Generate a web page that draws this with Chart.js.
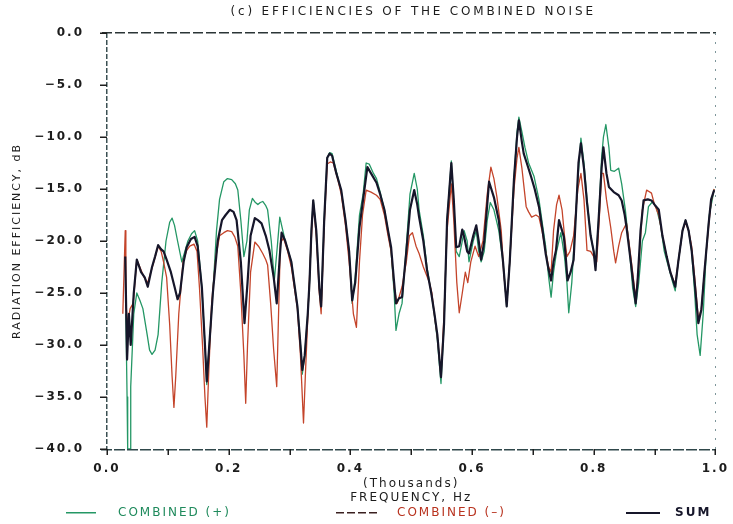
<!DOCTYPE html>
<html>
<head>
<meta charset="utf-8">
<script src="https://cdn.jsdelivr.net/npm/chart.js@4.4.0/dist/chart.umd.min.js"></script>
<style>
  html, body { margin: 0; padding: 0; background: #fff; }
  #wrap { width: 733px; height: 524px; }
</style>
</head>
<body>
<div id="wrap"><canvas id="effChart" width="733" height="524"></canvas></div>
<script>
// frequency in thousands of Hz, efficiency in dB
const combinedPlus = [
  [0.031,-27.0],[0.033,-35.0],[0.034,-40.0],[0.038,-40.0],[0.039,-34.0],[0.044,-27.0],[0.049,-25.0],
  [0.054,-25.7],[0.059,-26.5],[0.066,-29.0],[0.070,-30.5],[0.074,-30.9],[0.079,-30.5],[0.084,-29.0],
  [0.090,-24.0],[0.097,-20.0],[0.103,-18.2],[0.107,-17.8],[0.111,-18.5],[0.116,-20.0],[0.123,-22.0],
  [0.128,-21.0],[0.133,-20.0],[0.139,-19.3],[0.144,-19.0],[0.149,-20.0],[0.156,-24.5],[0.161,-30.0],
  [0.164,-33.8],[0.167,-31.0],[0.174,-25.0],[0.180,-19.0],[0.185,-16.0],[0.192,-14.3],[0.198,-14.0],
  [0.205,-14.1],[0.211,-14.5],[0.215,-15.1],[0.220,-18.0],[0.225,-21.5],[0.230,-20.0],[0.234,-17.0],
  [0.239,-15.9],[0.244,-16.3],[0.248,-16.5],[0.252,-16.3],[0.256,-16.2],[0.261,-16.6],[0.264,-17.0],
  [0.270,-20.0],[0.275,-23.8],[0.280,-20.5],[0.284,-17.7],[0.289,-19.0],[0.293,-20.0],[0.303,-22.0],
  [0.313,-26.3],[0.318,-30.0],[0.321,-32.8],[0.325,-31.0],[0.330,-27.0],[0.333,-23.8],[0.336,-19.0],
  [0.339,-16.1],[0.344,-19.0],[0.349,-24.5],[0.352,-26.5],[0.357,-18.0],[0.362,-12.0],[0.366,-11.5],
  [0.370,-11.6],[0.377,-13.3],[0.385,-15.2],[0.392,-18.0],[0.398,-21.0],[0.403,-26.0],[0.408,-23.5],
  [0.415,-17.5],[0.421,-15.5],[0.426,-12.5],[0.431,-12.6],[0.438,-13.5],[0.443,-14.0],[0.449,-15.3],
  [0.456,-17.0],[0.462,-19.0],[0.467,-21.0],[0.472,-25.0],[0.475,-28.6],[0.480,-27.0],[0.485,-26.0],
  [0.492,-20.5],[0.498,-15.5],[0.505,-13.5],[0.510,-15.0],[0.513,-17.0],[0.520,-19.5],[0.526,-22.5],
  [0.533,-25.0],[0.538,-27.0],[0.543,-29.5],[0.549,-33.7],[0.554,-28.0],[0.559,-18.0],[0.566,-12.3],
  [0.570,-16.5],[0.574,-21.0],[0.579,-21.5],[0.584,-20.0],[0.587,-19.0],[0.592,-20.0],[0.595,-22.0],
  [0.602,-20.0],[0.607,-19.0],[0.611,-21.0],[0.615,-22.0],[0.620,-21.0],[0.625,-18.0],[0.630,-16.3],
  [0.636,-17.0],[0.644,-19.0],[0.651,-22.0],[0.657,-26.3],[0.662,-22.0],[0.669,-14.0],[0.674,-9.5],
  [0.677,-8.1],[0.682,-9.5],[0.687,-11.0],[0.693,-12.5],[0.702,-13.8],[0.710,-16.0],[0.716,-18.5],
  [0.721,-20.5],[0.726,-23.5],[0.730,-25.4],[0.734,-23.0],[0.739,-21.0],[0.746,-19.2],[0.752,-21.5],
  [0.756,-24.0],[0.759,-26.9],[0.764,-24.0],[0.769,-19.0],[0.774,-14.0],[0.779,-10.1],[0.784,-12.5],
  [0.789,-16.0],[0.795,-19.5],[0.800,-21.0],[0.803,-22.5],[0.808,-18.0],[0.813,-12.0],[0.816,-10.0],
  [0.820,-8.8],[0.825,-11.0],[0.828,-13.2],[0.834,-13.3],[0.841,-13.0],[0.846,-14.5],[0.852,-17.0],
  [0.859,-21.0],[0.864,-24.5],[0.869,-26.3],[0.874,-24.0],[0.880,-20.0],[0.885,-19.2],[0.890,-16.7],
  [0.897,-16.2],[0.903,-16.8],[0.910,-18.5],[0.916,-21.0],[0.923,-22.5],[0.930,-24.0],[0.934,-24.8],
  [0.939,-22.0],[0.946,-19.0],[0.951,-18.0],[0.956,-19.0],[0.961,-21.0],[0.966,-25.0],[0.970,-29.0],
  [0.975,-31.0],[0.980,-27.0],[0.985,-21.0],[0.990,-17.5],[0.995,-16.0],[0.998,-15.0]
];

const combinedMinus = [
  [0.026,-27.0],[0.030,-19.0],[0.031,-26.0],[0.034,-28.0],[0.038,-26.5],[0.043,-26.0],[0.049,-21.8],
  [0.054,-22.5],[0.061,-23.5],[0.067,-24.0],[0.072,-23.0],[0.077,-22.0],[0.084,-20.5],[0.089,-21.0],
  [0.093,-22.0],[0.098,-23.5],[0.103,-28.0],[0.107,-33.0],[0.110,-36.0],[0.113,-33.0],[0.118,-27.0],
  [0.125,-22.0],[0.131,-20.9],[0.136,-20.5],[0.143,-20.3],[0.148,-21.0],[0.152,-24.5],[0.157,-30.0],
  [0.161,-35.0],[0.164,-37.9],[0.167,-33.0],[0.172,-26.0],[0.179,-21.5],[0.185,-19.5],[0.192,-19.2],
  [0.198,-19.0],[0.205,-19.1],[0.210,-19.6],[0.215,-20.5],[0.220,-25.0],[0.225,-31.0],[0.228,-35.6],
  [0.231,-30.0],[0.236,-23.0],[0.243,-20.1],[0.249,-20.5],[0.256,-21.2],[0.261,-21.8],[0.264,-22.3],
  [0.269,-26.0],[0.274,-30.5],[0.279,-34.0],[0.282,-27.0],[0.285,-20.2],[0.290,-19.7],[0.297,-21.0],
  [0.303,-22.5],[0.313,-26.5],[0.318,-31.0],[0.323,-37.5],[0.326,-33.0],[0.331,-26.0],[0.334,-22.0],
  [0.339,-16.3],[0.344,-19.5],[0.349,-25.0],[0.352,-27.0],[0.357,-18.5],[0.362,-12.6],[0.367,-12.4],
  [0.372,-12.5],[0.379,-14.0],[0.385,-15.5],[0.392,-18.5],[0.398,-22.0],[0.405,-27.0],[0.410,-28.3],
  [0.415,-22.0],[0.420,-17.5],[0.426,-15.1],[0.434,-15.3],[0.443,-15.6],[0.449,-16.0],[0.456,-17.5],
  [0.462,-19.5],[0.467,-21.0],[0.472,-24.5],[0.477,-26.0],[0.485,-24.4],[0.492,-22.0],[0.497,-19.5],
  [0.502,-19.2],[0.508,-20.5],[0.513,-21.2],[0.520,-22.5],[0.530,-24.0],[0.534,-25.0],[0.539,-27.5],
  [0.543,-29.2],[0.549,-33.0],[0.554,-27.0],[0.559,-19.0],[0.566,-14.5],[0.570,-18.0],[0.575,-24.0],
  [0.579,-26.9],[0.584,-25.0],[0.589,-23.0],[0.593,-24.0],[0.598,-22.0],[0.605,-20.5],[0.611,-21.5],
  [0.618,-20.0],[0.625,-15.5],[0.631,-12.9],[0.636,-14.0],[0.641,-15.8],[0.648,-19.0],[0.652,-23.0],
  [0.657,-26.0],[0.662,-22.0],[0.669,-15.0],[0.674,-12.0],[0.677,-11.0],[0.682,-13.0],[0.689,-16.7],
  [0.693,-17.2],[0.698,-17.7],[0.705,-17.5],[0.710,-17.7],[0.715,-19.0],[0.721,-21.0],[0.726,-22.5],
  [0.730,-23.0],[0.734,-19.0],[0.739,-16.5],[0.743,-15.6],[0.748,-17.0],[0.752,-19.5],[0.756,-21.5],
  [0.761,-21.0],[0.767,-19.5],[0.774,-15.0],[0.779,-13.5],[0.784,-16.0],[0.789,-20.9],[0.795,-21.0],
  [0.800,-21.5],[0.805,-22.0],[0.810,-17.0],[0.813,-13.5],[0.816,-13.5],[0.821,-16.0],[0.828,-18.7],
  [0.833,-21.0],[0.836,-22.1],[0.841,-20.5],[0.846,-19.2],[0.854,-18.3],[0.861,-21.5],[0.866,-24.0],
  [0.869,-25.5],[0.874,-22.5],[0.880,-17.0],[0.887,-15.1],[0.895,-15.4],[0.900,-16.5],[0.907,-17.5],
  [0.913,-19.5],[0.920,-21.5],[0.926,-23.0],[0.934,-24.2],[0.939,-22.0],[0.946,-19.0],[0.951,-18.2],
  [0.956,-19.0],[0.961,-20.5],[0.966,-23.5],[0.972,-27.5],[0.977,-26.5],[0.982,-23.0],[0.989,-18.5],
  [0.993,-16.2],[0.998,-15.0]
];

const sumNoise = [
  [0.030,-21.5],[0.033,-31.4],[0.036,-27.0],[0.039,-30.0],[0.044,-25.0],[0.049,-21.8],[0.056,-23.0],
  [0.062,-23.5],[0.067,-24.4],[0.074,-22.5],[0.079,-21.5],[0.084,-20.4],[0.089,-20.8],[0.093,-21.0],
  [0.098,-21.8],[0.105,-23.0],[0.111,-24.4],[0.116,-25.6],[0.120,-25.0],[0.126,-22.0],[0.131,-20.6],
  [0.138,-19.8],[0.144,-19.6],[0.149,-20.5],[0.156,-24.5],[0.161,-30.0],[0.164,-33.5],[0.167,-31.0],
  [0.174,-25.0],[0.182,-20.0],[0.189,-18.0],[0.195,-17.5],[0.202,-17.0],[0.208,-17.2],[0.213,-18.0],
  [0.220,-22.0],[0.226,-27.9],[0.231,-24.0],[0.236,-19.5],[0.243,-17.8],[0.248,-18.0],[0.254,-18.3],
  [0.261,-19.5],[0.267,-20.9],[0.274,-23.5],[0.279,-26.0],[0.284,-21.5],[0.287,-19.2],[0.293,-20.0],
  [0.303,-22.0],[0.313,-26.3],[0.318,-30.0],[0.321,-32.4],[0.325,-31.0],[0.330,-27.0],[0.333,-23.8],
  [0.336,-19.0],[0.339,-16.1],[0.344,-19.0],[0.349,-24.5],[0.352,-26.3],[0.357,-18.0],[0.362,-12.0],
  [0.366,-11.6],[0.370,-11.8],[0.377,-13.5],[0.385,-15.1],[0.392,-18.0],[0.398,-21.0],[0.403,-25.7],
  [0.408,-24.0],[0.415,-18.7],[0.421,-16.0],[0.428,-12.9],[0.434,-13.5],[0.443,-14.4],[0.449,-15.5],
  [0.456,-17.0],[0.462,-19.0],[0.467,-20.6],[0.472,-24.0],[0.475,-26.0],[0.480,-25.5],[0.485,-25.4],
  [0.492,-21.0],[0.498,-17.0],[0.505,-15.1],[0.510,-16.5],[0.513,-17.7],[0.520,-20.0],[0.526,-22.8],
  [0.533,-25.0],[0.538,-26.9],[0.543,-29.0],[0.549,-33.1],[0.554,-28.0],[0.559,-18.0],[0.566,-12.5],
  [0.570,-16.0],[0.574,-20.6],[0.579,-20.5],[0.584,-18.9],[0.587,-19.6],[0.592,-21.0],[0.595,-21.2],
  [0.602,-19.5],[0.607,-18.5],[0.611,-20.0],[0.615,-21.8],[0.620,-20.1],[0.625,-16.5],[0.628,-14.3],
  [0.636,-15.8],[0.644,-18.0],[0.651,-22.0],[0.657,-26.3],[0.662,-22.0],[0.669,-14.0],[0.674,-10.0],
  [0.677,-8.4],[0.682,-10.5],[0.685,-11.6],[0.690,-12.5],[0.697,-13.8],[0.703,-15.0],[0.710,-16.7],
  [0.716,-19.0],[0.721,-21.2],[0.726,-22.8],[0.730,-23.8],[0.734,-22.0],[0.738,-20.9],[0.743,-18.0],
  [0.751,-19.6],[0.754,-21.5],[0.757,-23.8],[0.762,-23.0],[0.767,-21.8],[0.772,-16.0],[0.775,-12.5],
  [0.779,-10.6],[0.784,-13.0],[0.789,-16.3],[0.795,-19.5],[0.800,-21.0],[0.803,-22.8],[0.808,-18.0],
  [0.813,-13.0],[0.816,-11.0],[0.821,-13.5],[0.825,-14.8],[0.833,-15.3],[0.841,-15.6],[0.846,-16.1],
  [0.851,-17.5],[0.854,-18.7],[0.861,-22.0],[0.866,-24.5],[0.869,-26.0],[0.872,-24.0],[0.877,-19.0],
  [0.882,-16.1],[0.889,-16.0],[0.895,-16.1],[0.900,-16.5],[0.907,-17.0],[0.913,-19.5],[0.920,-21.5],
  [0.926,-23.0],[0.934,-24.4],[0.939,-22.0],[0.946,-19.0],[0.951,-18.0],[0.956,-19.0],[0.961,-20.9],
  [0.966,-24.0],[0.972,-27.9],[0.977,-26.6],[0.982,-23.0],[0.989,-18.3],[0.993,-16.0],[0.998,-15.1]
];

const seriesNames = ['COMBINED (+)', 'COMBINED (\u2013)', 'SUM'];
const seriesColors = ['#249765', '#c4442a', '#16162a'];
const textColors = ['#1f8a5c', '#b8321e', '#16162a'];

const xTicksMajor = [0, 0.2, 0.4, 0.6, 0.8, 1.0];
const plotTitle = '(c) EFFICIENCIES OF THE COMBINED NOISE';
const yTitle = 'RADIATION EFFICIENCY, dB';
const xTitle = ['(Thousands)', 'FREQUENCY, Hz'];

const FONT = "'DejaVu Sans', sans-serif";

const toPoints = arr => arr.map(p => ({ x: p[0], y: p[1] }));

// plot frame, the four sides as thin dashed strips
function hStrip(ctx, x0, x1, y, dash, gap, color, w) {
  ctx.fillStyle = color;
  for (let x = x0; x < x1; x += dash + gap) {
    ctx.fillRect(x, y, Math.min(dash, x1 - x), w);
  }
}
function vStrip(ctx, x, y0, y1, dash, gap, color, w) {
  ctx.fillStyle = color;
  for (let y = y0; y < y1; y += dash + gap) {
    ctx.fillRect(x, y, w, Math.min(dash, y1 - y));
  }
}

const plotDecor = {
  id: 'plotDecor',
  beforeDraw(chart) {
    chart.ctx.letterSpacing = '2px';
  },
  afterDraw(chart) {
    const { ctx, chartArea: a, scales } = chart;
    const l = Math.round(a.left), r = Math.round(a.right);
    const t = Math.round(a.top), b = Math.round(a.bottom);
    ctx.save();
    hStrip(ctx, l - 5, r + 1, t - 1, 10, 3, '#2b3536', 1.5);
    vStrip(ctx, l - 1, t, b + 1, 5, 2, '#3b5053', 1.5);
    hStrip(ctx, l - 6, r + 1, b, 11, 2, '#2f474a', 1.5);
    vStrip(ctx, r, t, b + 1, 2, 7, '#7d969a', 1);

    // tick marks: downward on the frequency axis, outward on the efficiency axis
    ctx.fillStyle = '#1e1e1e';
    scales.x.ticks.forEach(tk => {
      const x = Math.round(scales.x.getPixelForValue(tk.value));
      ctx.fillRect(x - 0.5, b, 1.5, 6);
    });
    scales.y.ticks.forEach(tk => {
      const y = Math.round(scales.y.getPixelForValue(tk.value));
      ctx.fillRect(l - 7, y - 0.5, 7, 1.5);
    });

    ctx.letterSpacing = '2.8px';
    ctx.textBaseline = 'middle';
    ctx.fillStyle = '#1c1c1c';
    ctx.font = '12px ' + FONT;
    ctx.textAlign = 'center';
    ctx.fillText(plotTitle, (a.left + a.right) / 2 + 2, 12);

    // legend row
    ctx.letterSpacing = '2px';
    const y = 512;
    const items = [
      { x0: 66, x1: 96, tx: 118, dash: 30, gap: 0 },
      { x0: 336, x1: 378, tx: 397, dash: 8, gap: 3 },
      { x0: 626, x1: 660, tx: 675, dash: 34, gap: 0 }
    ];
    ctx.textAlign = 'left';
    items.forEach((it, i) => {
      hStrip(ctx, it.x0, it.x1, y, it.dash, it.gap, i === 1 ? '#3a2020' : seriesColors[i], i === 2 ? 2 : 1.5);
      ctx.fillStyle = textColors[i];
      ctx.font = (i === 2 ? 'bold ' : '') + '12px ' + FONT;
      ctx.fillText(seriesNames[i], it.tx, y + 1);
    });
    ctx.restore();
  }
};

new Chart(document.getElementById('effChart'), {
  type: 'line',
  data: {
    datasets: [
      { label: seriesNames[0], data: toPoints(combinedPlus), borderColor: seriesColors[0], borderWidth: 1.3, order: 2 },
      { label: seriesNames[1], data: toPoints(combinedMinus), borderColor: seriesColors[1], borderWidth: 1.3, order: 1 },
      { label: seriesNames[2], data: toPoints(sumNoise), borderColor: seriesColors[2], borderWidth: 2.2, order: 0 }
    ]
  },
  options: {
    responsive: false,
    animation: false,
    elements: {
      point: { radius: 0 },
      line: { tension: 0, borderJoinStyle: 'round', fill: false }
    },
    layout: { padding: { top: 33, right: 16, bottom: 19, left: 0 } },
    plugins: {
      legend: { display: false },
      title: { display: false },
      tooltip: { enabled: false }
    },
    scales: {
      x: {
        type: 'linear',
        min: 0,
        max: 1,
        afterFit: s => { s.height = 56; },
        afterBuildTicks: s => {
          s.ticks = [];
          for (let i = 0; i <= 10; i++) s.ticks.push({ value: i / 10 });
        },
        ticks: {
          autoSkip: false,
          maxRotation: 0,
          padding: 7,
          color: '#1c1c1c',
          font: { family: FONT, size: 12, weight: 'bold' },
          callback: v => xTicksMajor.some(t => Math.abs(t - v) < 1e-6) ? v.toFixed(1) : ''
        },
        grid: { display: false, tickLength: 6 },
        border: { display: false },
        title: {
          display: true,
          text: xTitle,
          color: '#1c1c1c',
          font: { family: FONT, size: 12 },
          padding: { top: 0, bottom: 0 }
        }
      },
      y: {
        min: -40,
        max: 0,
        afterFit: s => { s.width = 107; },
        ticks: {
          stepSize: 5,
          padding: 15,
          color: '#1c1c1c',
          font: { family: FONT, size: 12, weight: 'bold' },
          callback: v => v === 0 ? '0.0' : '\u2212' + Math.abs(v).toFixed(1)
        },
        grid: { display: false },
        border: { display: false },
        title: {
          display: true,
          text: yTitle,
          color: '#1c1c1c',
          font: { family: FONT, size: 11 },
          padding: { top: 11, bottom: 0 }
        }
      }
    }
  },
  plugins: [plotDecor]
});
</script>
</body>
</html>
